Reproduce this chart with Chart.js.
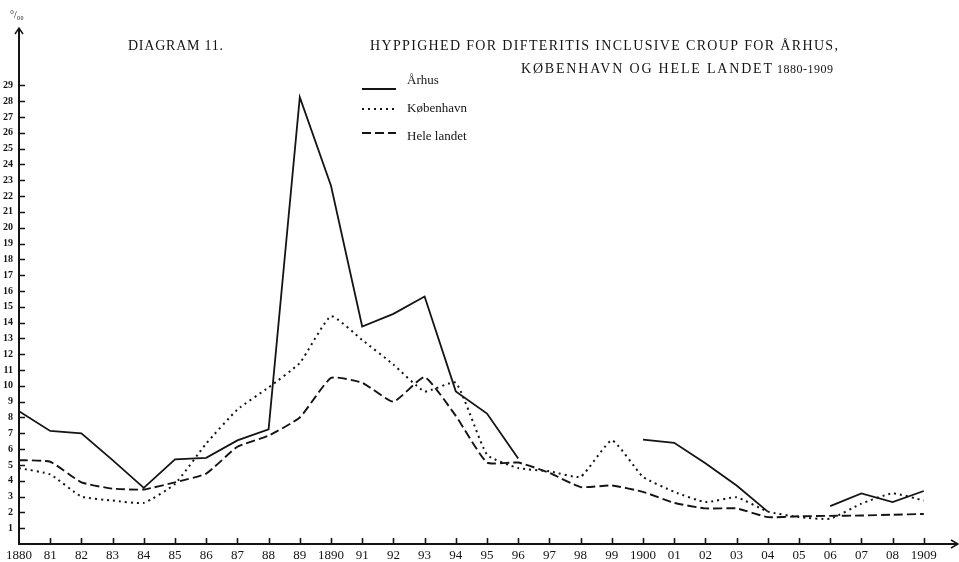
<!DOCTYPE html>
<html><head><meta charset="utf-8">
<script src="https://cdn.jsdelivr.net/npm/chart.js@4.4.1/dist/chart.umd.min.js"></script>
<style>html,body{margin:0;padding:0;background:#fff}#wrap{width:959px;height:562px;position:relative}</style>
</head><body><div id="wrap"><canvas id="c" width="959" height="562"></canvas></div>
<script>
const years = [1880,1881,1882,1883,1884,1885,1886,1887,1888,1889,1890,1891,1892,1893,1894,1895,1896,1897,1898,1899,1900,1901,1902,1903,1904,1905,1906,1907,1908,1909];
const xTickLabels = ['1880','81','82','83','84','85','86','87','88','89','1890','91','92','93','94','95','96','97','98','99','1900','01','02','03','04','05','06','07','08','1909'];
const yTickLabels = ['1','2','3','4','5','6','7','8','9','10','11','12','13','14','15','16','17','18','19','20','21','22','23','24','25','26','27','28','29'];
const seriesNames = ['Århus','København','Hele landet'];
const aarhus = [8.4,7.15,7.0,5.3,3.55,5.35,5.45,6.55,7.25,28.25,22.65,13.75,14.55,15.65,9.65,8.25,5.4,null,null,null,6.6,6.4,5.1,3.7,2.05,null,2.4,3.2,2.65,3.35];
const kobenhavn = [4.8,4.4,3.0,2.75,2.6,3.8,6.35,8.5,9.9,11.45,14.4,12.9,11.35,9.65,10.2,5.65,4.8,4.6,4.25,6.55,4.25,3.3,2.65,2.95,2.05,1.7,1.6,2.55,3.2,2.75];
const heleLandet = [5.3,5.2,3.9,3.5,3.45,3.9,4.45,6.15,6.85,8.0,10.5,10.2,9.0,10.55,8.1,5.15,5.15,4.5,3.6,3.7,3.3,2.6,2.25,2.25,1.7,1.75,1.78,1.8,1.85,1.9];
const titleMain = 'HYPPIGHED FOR DIFTERITIS INCLUSIVE CROUP FOR ÅRHUS,';
const titleSub = 'KØBENHAVN OG HELE LANDET';
const titleYears = '1880-1909';
const diagramLabel = 'DIAGRAM 11.';
const unitLabel = '°/₀₀';

const toPts = arr => years.map((y,i)=>({x:y,y:arr[i]}));
const INK = '#141414';
const SERIF = '"Liberation Serif","DejaVu Serif",serif';

function fitText(ctx, text, x, y, width, font){
  ctx.font = font;
  ctx.letterSpacing = '0px';
  const w = ctx.measureText(text).width;
  const ls = (width - w) / Math.max(1, text.length - 1);
  ctx.letterSpacing = ls.toFixed(2) + 'px';
  ctx.fillText(text, x, y);
  ctx.letterSpacing = '0px';
}

const decor = {
  id:'decor',
  afterDraw(chart){
    const ctx = chart.ctx, ca = chart.chartArea;
    const xs = chart.scales.x, ys = chart.scales.y;
    ctx.save();
    ctx.strokeStyle = INK; ctx.fillStyle = INK;
    // axes
    ctx.lineWidth = 2;
    ctx.beginPath();
    ctx.moveTo(ca.left, ca.bottom); ctx.lineTo(ca.left, 29);
    ctx.moveTo(ca.left - 1, ca.bottom); ctx.lineTo(957, ca.bottom);
    ctx.stroke();
    ctx.lineWidth = 1.5;
    ctx.beginPath();
    ctx.moveTo(ca.left - 4, 34); ctx.lineTo(ca.left, 28); ctx.lineTo(ca.left + 4, 34);
    ctx.moveTo(951, ca.bottom - 4); ctx.lineTo(958, ca.bottom); ctx.lineTo(951, ca.bottom + 4);
    ctx.stroke();
    // tick marks
    ctx.lineWidth = 1.6;
    ctx.beginPath();
    for (let v = 1; v <= yTickLabels.length; v++){
      const py = Math.round(ys.getPixelForValue(v)) + 0.5;
      ctx.moveTo(ca.left, py); ctx.lineTo(ca.left + 6, py);
    }
    for (let i = 1; i < years.length; i++){
      const px = Math.round(xs.getPixelForValue(years[i])) + 0.5;
      ctx.moveTo(px, ca.bottom); ctx.lineTo(px, ca.bottom - 6);
    }
    ctx.stroke();
    // unit label
    ctx.font = '10px ' + SERIF;
    ctx.textBaseline = 'middle'; ctx.textAlign = 'left';
    ctx.fillText(unitLabel, 10, 15);
    // titles
    ctx.textBaseline = 'alphabetic';
    fitText(ctx, diagramLabel, 128, 50, 95, '14px ' + SERIF);
    fitText(ctx, titleMain, 370, 50, 468, '14px ' + SERIF);
    fitText(ctx, titleSub, 521, 73, 251, '14px ' + SERIF);
    fitText(ctx, titleYears, 777, 73, 56, '12px ' + SERIF);
    // legend
    const ds = chart.data.datasets;
    const rows = [{ly:89, ty:81}, {ly:109, ty:109}, {ly:133, ty:137}];
    ctx.textBaseline = 'middle';
    ctx.font = '13px ' + SERIF;
    ds.forEach((d,i)=>{
      ctx.save();
      ctx.lineWidth = d.borderWidth;
      ctx.setLineDash(d.borderDash || []);
      ctx.lineCap = d.borderCapStyle || 'butt';
      ctx.beginPath();
      ctx.moveTo(362, rows[i].ly); ctx.lineTo(396, rows[i].ly);
      ctx.stroke();
      ctx.restore();
      ctx.fillText(d.label, 407, rows[i].ty);
    });
    ctx.restore();
  }
};

new Chart(document.getElementById('c').getContext('2d'), {
  type:'line',
  data:{datasets:[
    {label:seriesNames[0], data:toPts(aarhus), borderColor:INK, borderWidth:1.8, tension:0, spanGaps:false},
    {label:seriesNames[1], data:toPts(kobenhavn), borderColor:INK, borderWidth:2, borderDash:[2,4], tension:0.15},
    {label:seriesNames[2], data:toPts(heleLandet), borderColor:INK, borderWidth:1.9, borderDash:[9,4], tension:0.15}
  ]},
  options:{
    responsive:false, animation:false, devicePixelRatio:1,
    layout:{padding:{left:0,right:4,top:30,bottom:0}},
    plugins:{legend:{display:false}, tooltip:{enabled:false}, title:{display:false}},
    elements:{point:{radius:0}},
    scales:{
      x:{type:'linear', min:1880, max:1910,
         afterFit(s){ s.height = 18; },
         grid:{display:false, drawTicks:false}, border:{display:false},
         ticks:{stepSize:1, autoSkip:false, maxRotation:0, padding:4, color:INK,
                font:{family:SERIF, size:13},
                callback:(v)=>{ const i = Math.round(v) - 1880; return xTickLabels[i] ?? ''; }}},
      y:{min:0, max:32.5,
         afterFit(s){ s.width = 19; },
         grid:{display:false, drawTicks:false}, border:{display:false},
         ticks:{stepSize:1, autoSkip:false, padding:6, color:INK,
                font:{family:SERIF, size:10, weight:'bold'},
                callback:(v)=> (v >= 1 && v <= yTickLabels.length && Number.isInteger(v)) ? yTickLabels[v-1] : ''}}
    }
  },
  plugins:[decor]
});
</script>
</body></html>
